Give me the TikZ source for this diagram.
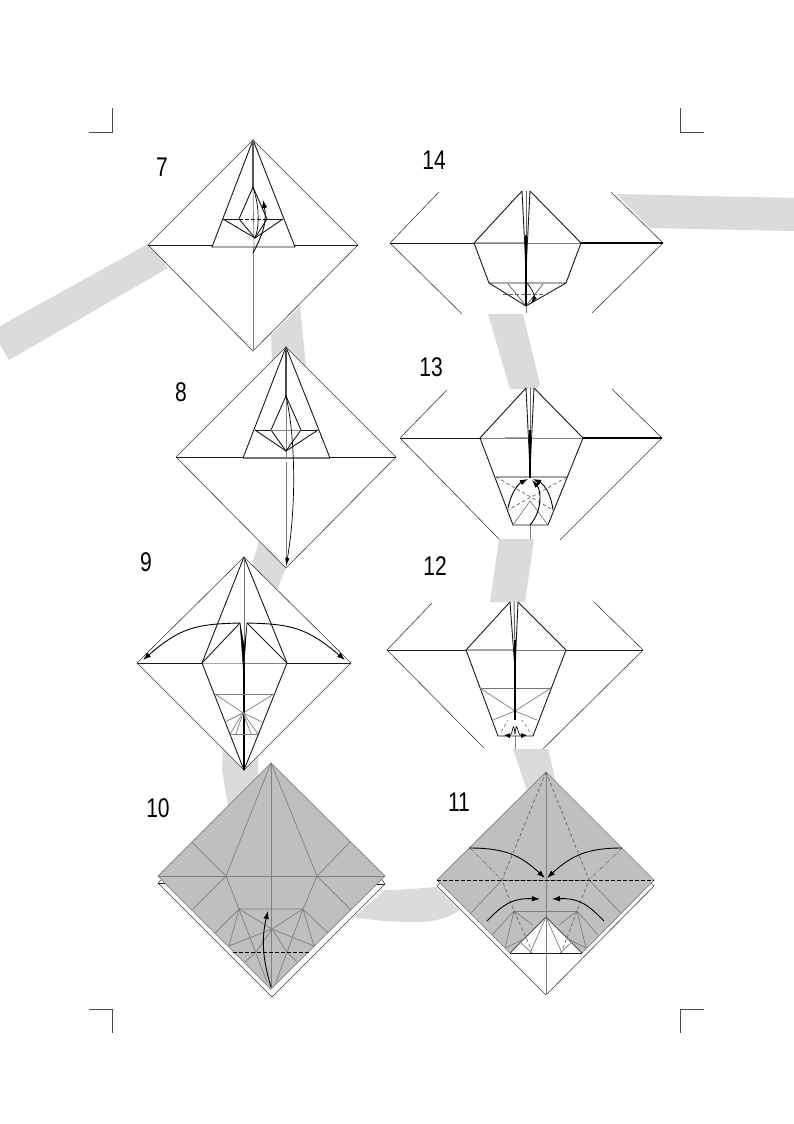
\documentclass[tikz,border=0pt]{standalone}
\usepackage{fontspec}
\setmainfont{Liberation Sans}
\usetikzlibrary{arrows.meta}
\tikzset{
	steplabel/.style={font=\fontsize{27}{27}\selectfont, transform shape, xscale=0.78, inner sep=0pt},
	edgeline/.style={line width=0.6pt, color=black!75},
	blackline/.style={line width=0.9pt, color=black!90},
	greyline/.style={line width=0.7pt, color=black!50},
	paleline/.style={line width=1.4pt, color=black!35},
	valley/.style={line width=0.8pt, color=black, dash pattern=on 3.5pt off 2.5pt},
	greyvalley/.style={line width=0.7pt, color=black!60, dash pattern=on 3.5pt off 2.5pt},
	chain/.style={line width=0.6pt, color=black!55, dash pattern=on 4pt off 2pt on 1pt off 2pt},
	foldarrow/.style={line width=0.9pt, color=black, -{Latex[length=8pt,width=5.5pt]}},
	thinarrow/.style={line width=0.7pt, color=black, -{Latex[length=8pt,width=4.5pt]}},
	smallarrow/.style={line width=0.6pt, color=black, -{Latex[length=6pt,width=5pt]}},
	ribbon/.style={fill=black!14, draw=none},
	cropmark/.style={line width=0.5pt, color=black!70},
	papergrey/.style={fill=black!25, draw=none}
}
\begin{document}
\begin{tikzpicture}[x=1pt, y=-1pt]
	%%%%% START %%%%%
	\useasboundingbox (0, 0) rectangle (794, 1124);
	\fill[white] (0, 0) rectangle (794, 1124);
	
	\draw[cropmark] (89, 132) -- (112, 132) -- (112, 108);
	\draw[cropmark] (704, 132) -- (680, 132) -- (680, 108);
	\draw[cropmark] (89, 1009) -- (112, 1009) -- (112, 1033);
	\draw[cropmark] (704, 1009) -- (680, 1009) -- (680, 1033);
	
	% ribbon behind the steps
	\fill[ribbon] (0, 326) -- (148, 244) -- (168, 268) -- (9, 360) -- (0, 345) -- cycle;
	\fill[ribbon] (271, 335) -- (300, 306) -- (306, 367) -- (286, 347) -- (272, 361) -- cycle;
	\fill[ribbon] (259, 541) -- (286, 568) -- (277, 590) -- (252, 565) -- cycle;
	\fill[ribbon] (223, 749) -- (244, 770) -- (258, 756) -- (258, 776) -- (228, 806) -- (222, 770) -- cycle;
	\fill[ribbon] (354, 917) .. controls (375, 921) and (395, 922) .. (420, 922) .. controls (435, 922) and (450, 917) .. (460, 910) -- (437, 887) .. controls (420, 888) and (405, 890) .. (385, 890) -- cycle;
	\fill[ribbon] (513, 749) -- (548, 749) -- (556, 782) -- (546, 772) -- (527, 791) -- cycle;
	\fill[ribbon] (499, 539) -- (534, 539) -- (525, 602) -- (490, 602) -- cycle;
	\fill[ribbon] (488, 314) -- (523, 314) -- (540, 384) -- (537, 389) -- (510, 389) -- cycle;
	\fill[ribbon] (616, 194) -- (794, 198) -- (794, 231) -- (650, 228) -- cycle;
	
	%%%%% step 7
	\node[steplabel] (num7) at (162, 167) {7};
	\draw[edgeline] (148, 245) -- (253, 140) -- (358, 245) -- (253, 351) -- cycle;
	\draw[blackline] (148, 245) -- (212, 245);
	\draw[blackline] (295, 245) -- (358, 245);
	\draw[greyline] (253, 247) -- (253, 351);
	\draw[blackline] (253, 140) -- (212, 247) -- (295, 247) -- cycle;
	\draw[line width=1.2pt, color=black!65] (253, 140) -- (253, 187);
	\draw[greyline] (253, 187) -- (254, 247);
	\draw[blackline] (253, 187) -- (239, 219) -- (255, 238) -- (267, 219) -- cycle;
	\draw[blackline] (223, 219) -- (239, 219);
	\draw[blackline] (267, 219) -- (283, 219);
	\draw[valley] (239, 219) -- (267, 219);
	\draw[blackline] (223, 219) -- (255, 238) -- (283, 219);
	\draw[line width=0.7pt] (253, 187) .. controls (259, 205) and (260, 225) .. (255, 238);
	\draw[foldarrow] (253, 253) .. controls (264, 232) and (267, 220) .. (263, 200);
	
	%%%%% step 8
	\node[steplabel] (num8) at (181, 392) {8};
	\draw[edgeline] (176, 457) -- (286, 347) -- (396, 457) -- (286, 568) -- cycle;
	\draw[blackline] (176, 457) -- (243, 457);
	\draw[blackline] (330, 457) -- (396, 457);
	\draw[line width=1.3pt, color=black!55] (243, 458) -- (330, 458);
	\draw[blackline] (243, 458) -- (286, 347) -- (330, 458);
	\draw[greyline] (286, 396) -- (286, 458);
	\draw[greyline] (286, 462) -- (286, 560);
	\draw[line width=1.2pt, color=black!70] (286, 347) -- (286, 396);
	\draw[blackline] (286, 396) -- (271, 430) -- (286, 451) -- (301, 430) -- cycle;
	\draw[blackline] (255, 430) -- (271, 430);
	\draw[blackline] (301, 430) -- (318, 430);
	\draw[greyline] (271, 430) -- (301, 430);
	\draw[blackline] (255, 430) -- (286, 451) -- (318, 430);
	\draw[thinarrow] (286, 396) .. controls (296, 440) and (296, 510) .. (286, 566);
	
	%%%%% step 9
	\node[steplabel] (num9) at (146, 562) {9};
	\draw[edgeline] (137, 663) -- (244, 557) -- (351, 663) -- (244, 770) -- cycle;
	\draw[blackline] (137, 663) -- (202, 663);
	\draw[blackline] (287, 663) -- (351, 663);
	\draw[paleline, line width=1pt] (202, 663) -- (243, 663);
	\draw[greyline] (243, 663) -- (287, 663);
	\draw[blackline] (244, 557) -- (202, 663) -- (244, 770) -- (287, 663) -- cycle;
	\draw[blackline] (202, 663) -- (240, 623);
	\draw[blackline] (287, 663) -- (247, 623);
	\draw[line width=1pt, color=black!55] (244, 557) -- (244, 663);
	\draw[fill=black, line width=0.4pt] (240, 623) -- (243.5, 672) -- (247, 623) -- (244.5, 648) -- cycle;
	\draw[line width=1.3pt] (244, 663) -- (244, 770);
	\draw[greyline] (215, 694) -- (274, 694);
	\draw[greyline] (230, 734) -- (258, 734);
	\foreach \e in {215, 274} \draw[greyline] (\e, 694) -- (243, 713);
	\draw[greyline] (225, 722) -- (243, 713) -- (262, 722);
	\draw[greyline] (230, 734) -- (243, 713) -- (258, 734);
	\draw[greyline] (236, 734) -- (243, 713) -- (251, 734);
	\draw[foldarrow] (240, 623) .. controls (195, 624) and (180, 628) .. (143, 660);
	\draw[foldarrow] (247, 623) .. controls (292, 624) and (307, 628) .. (345, 660);
	
	%%%%% step 10
	\node[steplabel] (num10) at (158, 808) {10};
	\draw[edgeline, fill=white] (158, 883) -- (272, 997) -- (385, 884) -- (380, 877) -- (164, 877) -- cycle;
	\draw[blackline] (158, 883) -- (166, 883);
	\draw[blackline] (377, 884) -- (385, 884);
	\draw[papergrey] (158, 876) -- (271, 763) -- (385, 876) -- (271, 989) -- cycle;
	\draw[greyline] (158, 876) -- (271, 763) -- (385, 876) -- (271, 989) -- cycle;
	\draw[greyline] (271, 763) -- (271, 989);
	\draw[greyline] (158, 876) -- (385, 876);
	\draw[greyline] (226, 876) -- (271, 763) -- (317, 876);
	\draw[greyline] (192, 842) -- (226, 876) -- (193, 909);
	\draw[greyline] (350, 842) -- (317, 876) -- (351, 910);
	\draw[greyline] (226, 876) -- (239, 909) -- (303, 909) -- (317, 876);
	\draw[greyline] (215, 933) -- (239, 909) -- (229, 946);
	\draw[greyline] (328, 933) -- (303, 909) -- (314, 946);
	\draw[greyline] (239, 909) -- (272, 929) -- (303, 909);
	\draw[greyline] (229, 946) -- (272, 929) -- (314, 946);
	\draw[greyline] (239, 909) -- (267, 982);
	\draw[greyline] (303, 909) -- (276, 982);
	\draw[greyline] (245, 962) -- (256, 952) -- (272, 929) -- (287, 952) -- (297, 962);
	\draw[valley] (233, 952) -- (310, 952);
	\draw[foldarrow] (271, 987) .. controls (263, 960) and (261, 940) .. (268, 911);
	
	%%%%% step 11
	\node[steplabel] (num11) at (459, 802) {11};
	\draw[edgeline, fill=white] (437, 886) -- (546, 995) -- (654, 886) -- (648, 880) -- (443, 880) -- cycle;
	\draw[papergrey] (437, 880) -- (546, 772) -- (654, 880) -- (582, 953) -- (546, 917) -- (510, 953) -- cycle;
	\draw[greyline] (510, 953) -- (437, 880) -- (546, 772) -- (654, 880) -- (582, 953);
	\draw[greyline] (546, 772) -- (546, 995);
	\draw[line width=0.8pt, color=black!70] (510, 953) -- (546, 917) -- (582, 953);
	\draw[blackline] (510, 953) -- (582, 953);
	\draw[greyline] (502, 880) -- (471, 913);
	\draw[greyline] (589, 880) -- (621, 913);
	\draw[greyline] (502, 880) -- (589, 880);
	\draw[greyline] (514, 911) -- (577, 911);
	\draw[greyline] (492, 935) -- (514, 911) -- (505, 948);
	\draw[greyline] (598, 935) -- (577, 911) -- (586, 948);
	\draw[greyline] (514, 911) -- (533, 925);
	\draw[greyline] (577, 911) -- (559, 925);
	\draw[greyline] (505, 948) -- (524, 939);
	\draw[greyline] (586, 948) -- (568, 939);
	\draw[greyline] (530, 953) -- (546, 917) -- (562, 953);
	\draw[greyline] (520, 942) -- (532, 953);
	\draw[greyline] (572, 942) -- (560, 953);
	\draw[valley] (437, 880) -- (654, 880);
	\draw[greyvalley] (546, 772) -- (502, 880) -- (514, 911) -- (532, 951);
	\draw[greyvalley] (546, 772) -- (589, 880) -- (577, 911) -- (562, 951);
	\draw[chain] (470, 848) -- (502, 880);
	\draw[chain] (622, 848) -- (589, 880);
	\draw[foldarrow] (469, 848) .. controls (505, 848) and (520, 855) .. (545, 878);
	\draw[foldarrow] (622, 848) .. controls (588, 848) and (572, 855) .. (547, 878);
	\draw[foldarrow] (487, 921) .. controls (505, 902) and (515, 898) .. (540, 899);
	\draw[foldarrow] (604, 921) .. controls (586, 902) and (576, 898) .. (552, 899);
	
	%%%%% step 12
	\node[steplabel] (num12) at (435, 566) {12};
	\draw[edgeline] (432, 603) -- (387, 650) -- (484, 748);
	\draw[edgeline] (594, 602) -- (643, 650) -- (543, 749);
	\draw[blackline] (387, 650) -- (466, 650);
	\draw[blackline] (566, 650) -- (643, 650);
	\draw[paleline] (466, 650) -- (515, 650);
	\draw[greyline] (515, 650) -- (566, 650);
	\draw[blackline] (510, 602) -- (466, 650) -- (498, 736) -- (533, 736) -- (566, 650) -- (518, 602);
	\draw[greyline] (515, 736) -- (515, 749);
	\draw[line width=1pt, color=black!55] (480, 688) -- (551, 688);
	\draw[greyline] (480, 688) -- (515, 711) -- (551, 688);
	\draw[greyline] (493, 720) -- (515, 711) -- (537, 720);
	\draw[blackline] (510, 602) -- (515, 670) -- (518, 602);
	\draw[line width=1pt, color=black!60] (514, 602) -- (515, 650);
	\draw[line width=1.2pt] (515, 640) -- (515, 720);
	\draw[greyvalley, line width=0.5pt] (501, 732) -- (508, 720);
	\draw[greyvalley, line width=0.5pt] (530, 732) -- (522, 720);
	\draw[smallarrow] (515, 734) .. controls (513, 716) and (513, 736) .. (504, 735);
	\draw[smallarrow] (515, 734) .. controls (517, 716) and (517, 736) .. (527, 735);
	
	%%%%% step 13
	\node[steplabel] (num13) at (431, 367) {13};
	\draw[edgeline] (447, 390) -- (400, 438) -- (499, 539);
	\draw[edgeline] (612, 389) -- (662, 438) -- (560, 540);
	\draw[blackline] (400, 438) -- (480, 438);
	\draw[line width=1.6pt] (583, 438) -- (662, 438);
	\draw[paleline] (505, 438) -- (527, 438);
	\draw[greyline] (480, 438) -- (583, 438);
	\draw[blackline] (526, 388) -- (480, 438) -- (513, 525) -- (548, 525) -- (583, 438) -- (534, 388);
	\draw[paleline] (496, 477) -- (567, 477);
	\draw[greyline] (530, 525) -- (530, 539);
	\draw[greyvalley] (496, 477) -- (553, 510);
	\draw[greyvalley] (567, 477) -- (508, 510);
	\draw[greyline] (513, 525) -- (530, 501) -- (548, 525);
	\draw[blackline] (526, 388) -- (530, 470) -- (534, 388);
	\draw[line width=1pt, color=black!60] (530, 388) -- (530, 430);
	\draw[line width=1.5pt] (530, 430) -- (530, 478);
	\draw[foldarrow] (508, 508) .. controls (511, 493) and (518, 484) .. (528, 479);
	\draw[foldarrow] (553, 510) .. controls (551, 494) and (544, 484) .. (533, 479);
	\draw[foldarrow] (530, 525) .. controls (543, 510) and (541, 490) .. (532, 480);
	
	%%%%% step 14
	\node[steplabel] (num14) at (434, 160) {14};
	\draw[edgeline] (439, 192) -- (390, 243) -- (462, 314);
	\draw[edgeline] (611, 192) -- (663, 243) -- (592, 313);
	\draw[blackline] (390, 243) -- (474, 243);
	\draw[line width=1.1pt] (581, 243) -- (663, 243);
	\draw[greyline] (474, 243) -- (581, 243);
	\draw[paleline, line width=1pt] (475, 242) -- (526, 242);
	\draw[blackline] (522, 191) -- (474, 243) -- (489, 283) -- (566, 283) -- (581, 243) -- (530, 191);
	\draw[blackline] (489, 283) -- (526, 306) -- (566, 283);
	\draw[edgeline] (508, 284) -- (526, 306) -- (543, 284);
	\draw[greyline] (526, 306) -- (526, 313);
	\draw[greyvalley] (503, 294) -- (548, 294);
	\draw[blackline] (522, 191) -- (526, 270) -- (530, 191);
	\draw[line width=1pt, color=black!60] (526, 191) -- (526, 240);
	\draw[line width=1.3pt] (526, 235) -- (526, 306);
	\draw[thinarrow] (527, 283) .. controls (533, 290) and (535, 297) .. (531, 304);
	%%%%% END %%%%%
\end{tikzpicture}
\end{document}
